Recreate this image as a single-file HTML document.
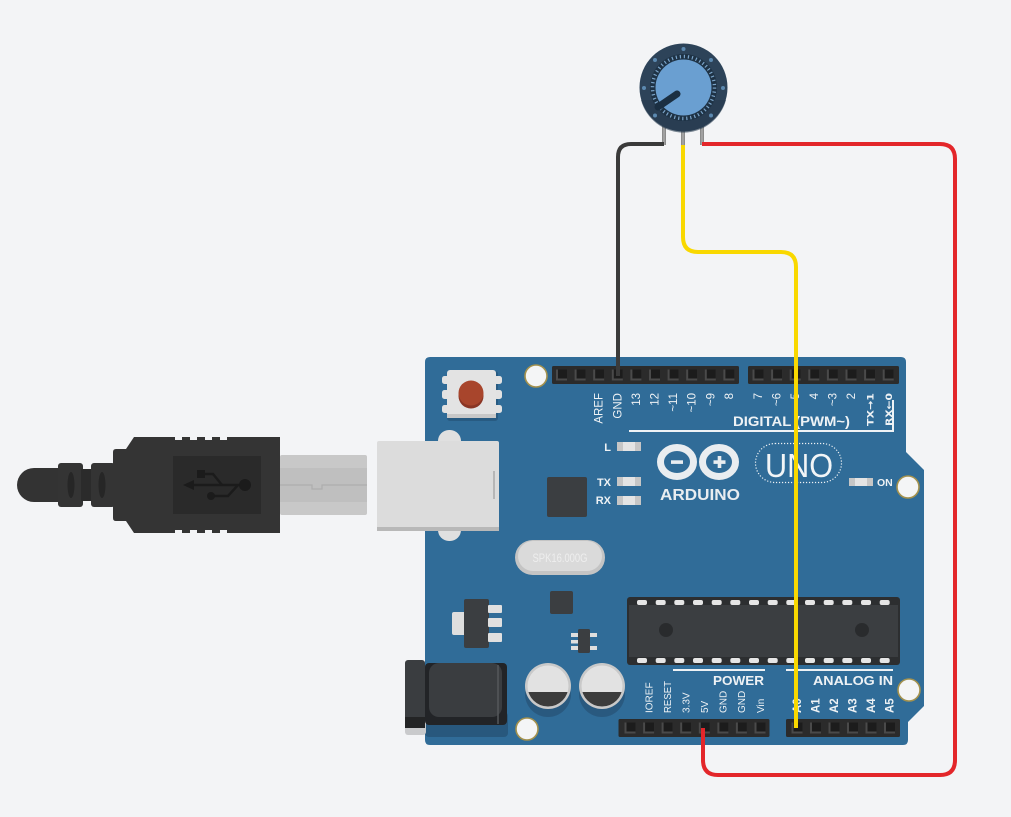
<!DOCTYPE html>
<html><head><meta charset="utf-8"><style>
html,body{margin:0;padding:0;background:#f3f4f6;}
svg{display:block;}
text{font-family:"Liberation Sans",sans-serif;}
</style></head><body>
<svg width="1011" height="817" viewBox="0 0 1011 817" xmlns="http://www.w3.org/2000/svg">
<rect width="1011" height="817" fill="#f3f4f6"/>

<!-- USB cable -->
<path d="M17 485 A17 17 0 0 1 34 468 H62 V502 H34 A17 17 0 0 1 17 485 Z" fill="#333"/>
<rect x="58" y="463" width="25" height="44" rx="3" fill="#343434"/>
<rect x="81" y="469" width="12" height="32" fill="#2b2b2b"/>
<rect x="91" y="463" width="24" height="44" rx="3" fill="#343434"/>
<ellipse cx="71" cy="485" rx="3.5" ry="13" fill="#262626"/>
<ellipse cx="102" cy="485" rx="3.5" ry="13" fill="#262626"/>
<path d="M116 449 H126 L134 437 H280 V533 H134 L126 521 H116 Q113 521 113 518 V452 Q113 449 116 449 Z" fill="#343434"/>
<g fill="#f3f4f6">
<rect x="175" y="437" width="7" height="3"/><rect x="190" y="437" width="7" height="3"/><rect x="205" y="437" width="7" height="3"/><rect x="220" y="437" width="7" height="3"/>
<rect x="175" y="530" width="7" height="3"/><rect x="190" y="530" width="7" height="3"/><rect x="205" y="530" width="7" height="3"/><rect x="220" y="530" width="7" height="3"/>
</g>
<rect x="173" y="456" width="88" height="58" fill="#2a2a2a"/>
<g stroke="#1b1b1b" stroke-width="2.5" fill="none">
<line x1="188" y1="485" x2="245" y2="485"/>
<polyline points="203,474 213,474 222,485"/>
<polyline points="211,496 228,496 238,485"/>
</g>
<g fill="#1b1b1b">
<polygon points="183,485 194,480 194,490"/>
<circle cx="245" cy="485" r="6"/>
<rect x="197" y="470" width="8" height="8"/>
<circle cx="211" cy="496" r="4"/>
</g>
<rect x="280" y="455" width="87" height="60" rx="2" fill="#c8c8c8"/>
<rect x="280" y="468" width="87" height="34" fill="#bfbfbf"/>
<path d="M280 485 H312 V489 H322 V485 H367" stroke="#adadad" stroke-width="1.2" fill="none"/>

<!-- Board -->
<path d="M430 357 H901 Q906 357 906 362 V452 L924 470 V706 L908 722 V740 Q908 745 903 745 H430 Q425 745 425 740 V362 Q425 357 430 357 Z" fill="#306c98"/>

<!-- USB port on board -->
<rect x="438" y="430" width="23" height="111" rx="11" fill="#e0e0e0"/>
<rect x="377" y="441" width="122" height="90" rx="2" fill="#dcdcdc"/>
<rect x="377" y="527" width="122" height="4" fill="#b8b8b8"/>
<line x1="494" y1="471" x2="494" y2="499" stroke="#a9a9a9" stroke-width="1.5"/>

<!-- reset button -->
<rect x="447" y="371" width="51" height="50" rx="3" fill="#285b82"/>
<g fill="#e2e2e2">
<rect x="442" y="376" width="8" height="8" rx="2.5"/><rect x="442" y="390" width="8" height="9" rx="2.5"/><rect x="442" y="405" width="8" height="8" rx="2.5"/>
<rect x="494" y="376" width="8" height="8" rx="2.5"/><rect x="494" y="390" width="8" height="9" rx="2.5"/><rect x="494" y="405" width="8" height="8" rx="2.5"/>
</g>
<rect x="447" y="370" width="49" height="48" rx="3" fill="#e3e3e3"/>
<rect x="447" y="414" width="49" height="4" fill="#c8c8c8"/>
<circle cx="471" cy="396" r="12.5" fill="#8a3524"/>
<circle cx="471" cy="393" r="12.5" fill="#a8452c"/>

<!-- LEDs -->
<g font-size="11" font-weight="bold" fill="#eef2f5" text-anchor="end">
<text x="611" y="451">L</text>
<text x="611" y="486">TX</text>
<text x="611" y="504">RX</text>
</g>
<g>
<rect x="617" y="442" width="24" height="9" fill="#c6c6c6"/><rect x="623" y="442" width="12" height="9" fill="#e4e4e4"/>
<rect x="617" y="477" width="24" height="9" fill="#c6c6c6"/><rect x="623" y="477" width="12" height="9" fill="#e4e4e4"/>
<rect x="617" y="496" width="24" height="9" fill="#c6c6c6"/><rect x="623" y="496" width="12" height="9" fill="#e4e4e4"/>
<rect x="849" y="478" width="24" height="8" fill="#c6c6c6"/><rect x="855" y="478" width="12" height="8" fill="#e4e4e4"/>
</g>
<text x="877" y="486" font-size="10.5" font-weight="bold" fill="#eef2f5">ON</text>

<!-- chips -->
<rect x="547" y="477" width="40" height="40" rx="2" fill="#3b3e41"/>
<rect x="550" y="591" width="23" height="23" rx="2" fill="#3b3e41"/>

<!-- crystal -->
<rect x="515" y="540" width="90" height="35" rx="17.5" fill="#c4c4c4"/>
<rect x="518" y="541" width="84" height="30" rx="15" fill="#dadada"/>
<text x="560" y="562" font-size="12" fill="#eeeeee" text-anchor="middle" textLength="55" lengthAdjust="spacingAndGlyphs">SPK16.000G</text>

<!-- regulator -->
<rect x="452" y="612" width="14" height="23" rx="2" fill="#dedede"/>
<rect x="464" y="599" width="25" height="49" rx="2" fill="#3b3e41"/>
<g fill="#e0e0e0">
<rect x="488" y="605" width="14" height="8" rx="1"/><rect x="488" y="618" width="14" height="9" rx="1"/><rect x="488" y="633" width="14" height="9" rx="1"/>
</g>

<!-- SOT -->
<g fill="#dedede">
<rect x="571" y="633" width="8" height="4"/><rect x="571" y="640" width="8" height="3.5"/><rect x="571" y="646" width="8" height="4"/>
<rect x="589" y="633" width="8" height="4"/><rect x="589" y="646" width="8" height="4"/>
</g>
<rect x="578" y="629" width="12" height="24" rx="1.5" fill="#3b3e41"/>

<!-- main chip -->
<rect x="627" y="597" width="273" height="68" rx="3" fill="#2c2e30"/>
<rect x="629" y="605" width="269" height="52" fill="#3b3e41"/>
<g fill="#e6e6e6">
<rect x="637" y="600" width="10" height="5" rx="2"/><rect x="655.7" y="600" width="10" height="5" rx="2"/><rect x="674.3" y="600" width="10" height="5" rx="2"/><rect x="693" y="600" width="10" height="5" rx="2"/><rect x="711.7" y="600" width="10" height="5" rx="2"/><rect x="730.3" y="600" width="10" height="5" rx="2"/><rect x="749" y="600" width="10" height="5" rx="2"/><rect x="767.7" y="600" width="10" height="5" rx="2"/><rect x="786.3" y="600" width="10" height="5" rx="2"/><rect x="805" y="600" width="10" height="5" rx="2"/><rect x="823.7" y="600" width="10" height="5" rx="2"/><rect x="842.3" y="600" width="10" height="5" rx="2"/><rect x="861" y="600" width="10" height="5" rx="2"/><rect x="879.7" y="600" width="10" height="5" rx="2"/>
<rect x="637" y="658" width="10" height="5" rx="2"/><rect x="655.7" y="658" width="10" height="5" rx="2"/><rect x="674.3" y="658" width="10" height="5" rx="2"/><rect x="693" y="658" width="10" height="5" rx="2"/><rect x="711.7" y="658" width="10" height="5" rx="2"/><rect x="730.3" y="658" width="10" height="5" rx="2"/><rect x="749" y="658" width="10" height="5" rx="2"/><rect x="767.7" y="658" width="10" height="5" rx="2"/><rect x="786.3" y="658" width="10" height="5" rx="2"/><rect x="805" y="658" width="10" height="5" rx="2"/><rect x="823.7" y="658" width="10" height="5" rx="2"/><rect x="842.3" y="658" width="10" height="5" rx="2"/><rect x="861" y="658" width="10" height="5" rx="2"/><rect x="879.7" y="658" width="10" height="5" rx="2"/>
</g>
<circle cx="666" cy="630" r="7" fill="#292b2d"/>
<circle cx="862" cy="630" r="7" fill="#292b2d"/>

<!-- DC jack -->
<rect x="425" y="712" width="83" height="25" rx="4" fill="#28587d"/>
<rect x="405" y="712" width="21" height="23" rx="3" fill="#c9cacc"/>
<rect x="425" y="663" width="82" height="62" rx="4" fill="#222427"/>
<rect x="429" y="663" width="73" height="54" rx="10" fill="#3a3d40"/>
<line x1="498" y1="665" x2="498" y2="724" stroke="#55585b" stroke-width="1.5"/>
<rect x="405" y="660" width="20" height="68" rx="3" fill="#3a3d40"/>
<rect x="405" y="717" width="20" height="11" fill="#232425"/>

<!-- capacitors -->
<defs>
<clipPath id="c1"><circle cx="548" cy="686" r="20.5"/></clipPath>
<clipPath id="c2"><circle cx="602" cy="686" r="20.5"/></clipPath>
</defs>
<circle cx="548" cy="694" r="23" fill="#29597f"/>
<circle cx="602" cy="694" r="23" fill="#29597f"/>
<circle cx="548" cy="686" r="23" fill="#c9c9c9"/>
<circle cx="548" cy="686" r="20.5" fill="#e2e2e2"/>
<rect x="520" y="692" width="60" height="20" fill="#3c3c3c" clip-path="url(#c1)"/>
<circle cx="602" cy="686" r="23" fill="#c9c9c9"/>
<circle cx="602" cy="686" r="20.5" fill="#e2e2e2"/>
<rect x="574" y="692" width="60" height="20" fill="#3c3c3c" clip-path="url(#c2)"/>

<!-- mounting holes -->
<g fill="#f4f5f6" stroke="#a3914d" stroke-width="1.6">
<circle cx="536" cy="376" r="11"/>
<circle cx="908" cy="487" r="11"/>
<circle cx="909" cy="690" r="11"/>
<circle cx="527" cy="729" r="11"/>
</g>

<!-- Headers -->
<defs>
<g id="pin">
<rect x="-5.5" y="-5.5" width="11" height="11" fill="#4a4a4a"/>
<rect x="-3.5" y="-5.5" width="9" height="9" fill="#1c1c1c"/>
</g>
</defs>
<rect x="552" y="366" width="187" height="18" rx="1.5" fill="#2b2b2b"/>
<rect x="748" y="366" width="151" height="18" rx="1.5" fill="#2b2b2b"/>
<rect x="618.5" y="719" width="151" height="18" rx="1.5" fill="#2b2b2b"/>
<rect x="786" y="719" width="114" height="18" rx="1.5" fill="#2b2b2b"/>
<g>
<use href="#pin" x="561.5" y="375"/><use href="#pin" x="580.1" y="375"/><use href="#pin" x="598.7" y="375"/><use href="#pin" x="617.3" y="375"/><use href="#pin" x="635.9" y="375"/><use href="#pin" x="654.5" y="375"/><use href="#pin" x="673.1" y="375"/><use href="#pin" x="691.7" y="375"/><use href="#pin" x="710.3" y="375"/><use href="#pin" x="728.9" y="375"/>
<use href="#pin" x="758" y="375"/><use href="#pin" x="776.6" y="375"/><use href="#pin" x="795.2" y="375"/><use href="#pin" x="813.8" y="375"/><use href="#pin" x="832.4" y="375"/><use href="#pin" x="851" y="375"/><use href="#pin" x="869.6" y="375"/><use href="#pin" x="888.2" y="375"/>
<use href="#pin" x="630" y="728"/><use href="#pin" x="648.6" y="728"/><use href="#pin" x="667.1" y="728"/><use href="#pin" x="685.7" y="728"/><use href="#pin" x="704.3" y="728"/><use href="#pin" x="722.9" y="728"/><use href="#pin" x="741.4" y="728"/><use href="#pin" x="760" y="728"/>
<use href="#pin" x="797" y="728"/><use href="#pin" x="815.5" y="728"/><use href="#pin" x="834" y="728"/><use href="#pin" x="852.5" y="728"/><use href="#pin" x="871" y="728"/><use href="#pin" x="889.5" y="728"/>
</g>

<!-- digital labels -->
<g font-size="11.5" fill="#eef2f5" text-anchor="end">
<text transform="translate(602.7,393) rotate(-90)">AREF</text>
<text transform="translate(621.3,393) rotate(-90)">GND</text>
<text transform="translate(639.9,393) rotate(-90)">13</text>
<text transform="translate(658.5,393) rotate(-90)">12</text>
<text transform="translate(677.1,393) rotate(-90)">~11</text>
<text transform="translate(695.7,393) rotate(-90)">~10</text>
<text transform="translate(714.3,393) rotate(-90)">~9</text>
<text transform="translate(732.9,393) rotate(-90)">8</text>
<text transform="translate(762,393) rotate(-90)">7</text>
<text transform="translate(780.6,393) rotate(-90)">~6</text>
<text transform="translate(799.2,393) rotate(-90)">~5</text>
<text transform="translate(817.8,393) rotate(-90)">4</text>
<text transform="translate(836.4,393) rotate(-90)">~3</text>
<text transform="translate(855,393) rotate(-90)">2</text>
</g>
<g font-size="9" font-weight="bold" fill="#eef2f5" text-anchor="end">
<text transform="translate(873.3,393) rotate(-90)" style="font-family:'DejaVu Sans',sans-serif" textLength="33" lengthAdjust="spacingAndGlyphs">TX→1</text>
<text transform="translate(891.9,393) rotate(-90)" style="font-family:'DejaVu Sans',sans-serif" textLength="33" lengthAdjust="spacingAndGlyphs">RX←0</text>
</g>
<text x="733" y="426" font-size="13.5" font-weight="bold" fill="#eef2f5" textLength="117" lengthAdjust="spacingAndGlyphs">DIGITAL (PWM~)</text>
<path d="M629 431 H893 V400" stroke="#eef2f5" stroke-width="2" fill="none"/>

<!-- logo -->
<g stroke="#e9edf0" stroke-width="7" fill="none">
<ellipse cx="677" cy="462" rx="16.5" ry="14.5"/>
<ellipse cx="719" cy="462" rx="16.5" ry="14.5"/>
</g>
<rect x="671" y="460.3" width="12" height="3.6" fill="#e9edf0"/>
<rect x="713.5" y="460.3" width="12" height="3.6" fill="#e9edf0"/>
<rect x="717.7" y="456" width="3.6" height="12" fill="#e9edf0"/>
<text x="660" y="500" font-size="16" font-weight="bold" fill="#e9edf0" textLength="80" lengthAdjust="spacingAndGlyphs">ARDUINO</text>
<rect x="755.5" y="443.5" width="86" height="39" rx="19.5" fill="none" stroke="#eef2f5" stroke-width="1.2" stroke-dasharray="1.2 1.8"/>
<text x="765" y="477" font-size="33" fill="#f2f5f7" textLength="68" lengthAdjust="spacingAndGlyphs" style="font-weight:300">UNO</text>

<!-- power/analog labels -->
<text x="713" y="685" font-size="13" font-weight="bold" fill="#eef2f5" textLength="51" lengthAdjust="spacingAndGlyphs">POWER</text>
<text x="813" y="685" font-size="13" font-weight="bold" fill="#eef2f5" textLength="80" lengthAdjust="spacingAndGlyphs">ANALOG IN</text>
<line x1="673" y1="670" x2="765" y2="670" stroke="#eef2f5" stroke-width="2"/>
<line x1="786" y1="670" x2="893" y2="670" stroke="#eef2f5" stroke-width="2"/>
<g font-size="10" fill="#eef2f5">
<text transform="translate(652.3,713) rotate(-90)">IOREF</text>
<text transform="translate(670.9,713) rotate(-90)" textLength="32" lengthAdjust="spacingAndGlyphs">RESET</text>
<text transform="translate(689.5,713) rotate(-90)">3.3V</text>
<text transform="translate(708.1,713) rotate(-90)">5V</text>
<text transform="translate(726.7,713) rotate(-90)">GND</text>
<text transform="translate(745.2,713) rotate(-90)">GND</text>
<text transform="translate(763.8,713) rotate(-90)">Vin</text>
</g>
<g font-size="11.5" font-weight="bold" fill="#eef2f5">
<text transform="translate(801.2,713) rotate(-90)">A0</text>
<text transform="translate(819.7,713) rotate(-90)">A1</text>
<text transform="translate(838.2,713) rotate(-90)">A2</text>
<text transform="translate(856.7,713) rotate(-90)">A3</text>
<text transform="translate(875.2,713) rotate(-90)">A4</text>
<text transform="translate(893.7,713) rotate(-90)">A5</text>
</g>

<!-- Potentiometer -->
<g stroke="#8b8b8b" stroke-width="4">
<line x1="664" y1="126" x2="664" y2="145"/>
<line x1="683" y1="126" x2="683" y2="145"/>
<line x1="702" y1="126" x2="702" y2="145"/>
</g>
<g stroke="#b0b0b0" stroke-width="1.2">
<line x1="664" y1="126" x2="664" y2="145"/>
<line x1="683" y1="126" x2="683" y2="145"/>
<line x1="702" y1="126" x2="702" y2="145"/>
</g>
<circle cx="683.5" cy="87.5" r="44" fill="#2d4359"/>
<path d="M641 100 A44 44 0 0 0 726 100 Z" fill="#263a4e" opacity="0.6"/>
<circle cx="683.5" cy="87.5" r="33.5" fill="#1e3245"/>
<circle cx="683.5" cy="87.5" r="31" fill="none" stroke="#7aa3c8" stroke-width="3.5" stroke-dasharray="1.2 2.86"/>
<circle cx="683.5" cy="87.5" r="28" fill="#6a9fd1"/>
<g fill="#5c89b0">
<circle cx="683.5" cy="49" r="2"/><circle cx="644" cy="88" r="2"/><circle cx="723" cy="88" r="2"/>
<circle cx="655" cy="60" r="2"/><circle cx="711" cy="60" r="2"/><circle cx="655" cy="115.5" r="2"/><circle cx="711" cy="115.5" r="2"/>
</g>
<line x1="677" y1="94" x2="658" y2="107" stroke="#1b2f42" stroke-width="7" stroke-linecap="round"/>

<!-- Wires -->
<path d="M664 144 H631 Q618 144 618 157 V376" stroke="#3a3a3a" stroke-width="4" fill="none"/>
<path d="M702 144 H940 Q955 144 955 159 V760 Q955 775 940 775 H718 Q703 775 703 760 V728" stroke="#e3262a" stroke-width="4" fill="none"/>
<path d="M683 145 V237 Q683 252 698 252 H781 Q796 252 796 267 V728" stroke="#f9d800" stroke-width="4" fill="none"/>
</svg>
</body></html>
